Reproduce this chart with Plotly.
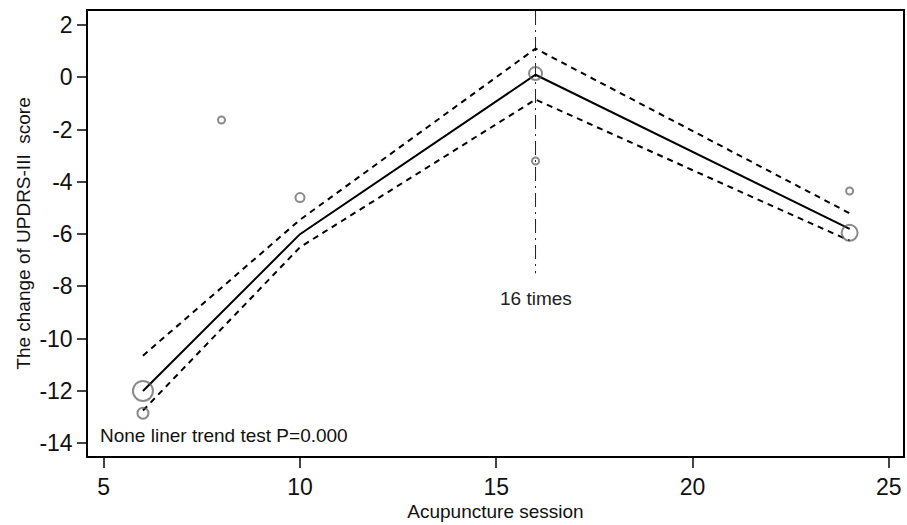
import plotly.graph_objects as go

# Observed study points
pt_session = [6, 6, 8, 10, 16, 16, 24, 24]
pt_change = [-12.0, -12.85, -1.63, -4.6, 0.15, -3.2, -4.35, -5.95]
pt_size = [20, 11, 7, 9, 13, 7, 7, 16]

# Fitted piecewise trend with confidence bounds
fit_session = [6, 10, 16, 24]
fit_change = [-12.0, -6.0, 0.1, -5.8]
fit_upper = [-10.65, -5.45, 1.1, -5.2]
fit_lower = [-12.75, -6.5, -0.85, -6.25]

knot_x = 16
knot_y = [2.54, -7.5]

x_ticks = [5, 10, 15, 20, 25]
x_labels = ["5", "10", "15", "20", "25"]
y_ticks = [2, 0, -2, -4, -6, -8, -10, -12, -14]
y_labels = ["2", "0", "-2", "-4", "-6", "-8", "-10", "-12", "-14"]

font = "Liberation Sans, Arial, sans-serif"

fig = go.Figure()
fig.add_trace(go.Scatter(x=[knot_x, knot_x], y=knot_y, mode="lines",
                         line=dict(color="#222", width=1, dash="14px,5px,2px,5px"),
                         showlegend=False, hoverinfo="skip"))
fig.add_trace(go.Scatter(x=fit_session, y=fit_upper, mode="lines",
                         line=dict(color="black", width=2, dash="6px,5px"), showlegend=False))
fig.add_trace(go.Scatter(x=fit_session, y=fit_lower, mode="lines",
                         line=dict(color="black", width=2, dash="6px,5px"), showlegend=False))
fig.add_trace(go.Scatter(x=fit_session, y=fit_change, mode="lines",
                         line=dict(color="black", width=2), showlegend=False))
fig.add_trace(go.Scatter(x=pt_session, y=pt_change, mode="markers",
                         marker=dict(size=pt_size, symbol="circle-open", color="#5a5a5a",
                                     line=dict(width=2, color="#5a5a5a")),
                         showlegend=False))

fig.add_annotation(x=knot_x, y=-8.45, text="16 times", showarrow=False,
                   font=dict(size=19, color="#222", family=font))
fig.add_annotation(x=0.012, xref="paper", y=-13.72, text="None liner trend test P=0.000",
                   xanchor="left", showarrow=False,
                   font=dict(size=19, color="#111", family=font))

fig.update_layout(
    width=907, height=525,
    margin=dict(l=88, r=2, t=11, b=69),
    plot_bgcolor="white", paper_bgcolor="white",
    font=dict(family=font, color="#111"),
    xaxis=dict(range=[4.6, 25.36], tickvals=x_ticks, ticktext=x_labels, ticks="outside", ticklen=10,
               tickwidth=1.5, showline=True, linewidth=1.5, linecolor="black", mirror=True,
               showgrid=False, zeroline=False, tickfont=dict(size=23),
               title=dict(text="Acupuncture session", font=dict(size=19), standoff=5)),
    yaxis=dict(range=[-14.49, 2.54], tickvals=y_ticks, ticktext=y_labels, ticks="outside", ticklen=9,
               tickwidth=1.5, showline=True, linewidth=1.5, linecolor="black", mirror=True,
               showgrid=False, zeroline=False, tickfont=dict(size=23),
               title=dict(text="The change of UPDRS-III  score", font=dict(size=19), standoff=4)),
)

fig.write_html("out.html")
